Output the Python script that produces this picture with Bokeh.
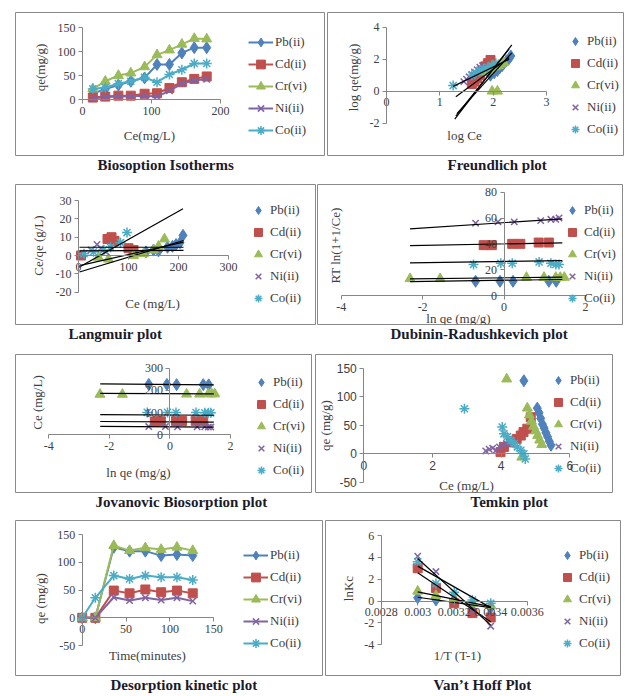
from math import pi
from bokeh.plotting import figure
from bokeh.models import Range1d, Label, Legend, LegendItem, FixedTicker, CustomJSTickFormatter
from bokeh.layouts import column, row
from bokeh.embed import file_html
from bokeh.resources import INLINE

# ---------------- data ----------------
metals = ["Pb(ii)", "Cd(ii)", "Cr(vi)", "Ni(ii)", "Co(ii)"]
colors = ["#4F81BD", "#C0504D", "#9BBB59", "#8064A2", "#4BACC6"]
markers = ["diamond", "square", "triangle", "x", "asterisk"]
marker_sizes = [12, 9, 10, 9, 10]

# 1. Biosorption isotherms
iso_ce = [15, 33, 52, 70, 90, 108, 126, 144, 162, 180]
iso_pb = [12, 22, 30, 38, 45, 73, 73, 97, 108, 108]
iso_cd = [4, 6, 8, 8, 12, 13, 24, 36, 43, 48]
iso_cr = [22, 38, 50, 55, 68, 93, 103, 115, 127, 126]
iso_ni = [2, 5, 6, 7, 8, 6, 18, 33, 40, 42]
iso_co = [22, 25, 33, 38, 46, 36, 52, 62, 75, 75]

# 2. Freundlich
fr_pb_x = [1.95, 2.02, 2.08, 2.12, 2.17, 2.2, 2.25, 2.3, 2.33]
fr_pb_y = [1.0, 1.15, 1.3, 1.45, 1.6, 1.75, 1.9, 2.05, 2.2]
fr_cd_x = [1.6, 1.65, 1.7, 1.75, 1.8, 1.85, 1.9, 1.95]
fr_cd_y = [0.45, 0.6, 0.8, 1.0, 1.3, 1.55, 1.75, 1.95]
fr_cr_x = [1.98, 2.08, 1.85, 1.9, 1.95, 2.0, 2.05, 2.1, 2.15, 2.2]
fr_cr_y = [0.0, 0.0, 1.2, 1.3, 1.4, 1.5, 1.55, 1.6, 1.7, 1.8]
fr_ni_x = [1.45, 1.5, 1.55, 1.6, 1.65, 1.7, 1.75, 1.8]
fr_ni_y = [0.6, 0.75, 0.9, 1.05, 1.2, 1.35, 1.5, 1.6]
fr_co_x = [1.25, 1.6, 1.68, 1.75, 1.82, 1.9, 1.97, 2.05]
fr_co_y = [0.35, 1.0, 1.15, 1.3, 1.4, 1.5, 1.6, 1.75]
fr_trend_x0 = [1.28, 1.3, 1.32, 1.3, 1.25]
fr_trend_y0 = [-1.75, -1.55, -1.4, -0.35, 0.3]
fr_trend_x1 = [2.35, 2.3, 2.35, 2.3, 2.3]
fr_trend_y1 = [2.9, 2.65, 2.4, 2.1, 2.0]

# 3. Langmuir
lang_pb_x = [135, 150, 160, 178, 188, 195, 203, 209]
lang_pb_y = [2, 3, 2.5, 4.5, 5, 6, 7, 11]
lang_cd_x = [5, 58, 66, 72, 100, 110]
lang_cd_y = [0, 9, 10, 8, 4, 3]
lang_cr_x = [40, 60, 110, 130, 150, 160, 172]
lang_cr_y = [-1, -2, 0, 1, 3, 5, 9]
lang_ni_x = [4, 25, 37, 45, 55]
lang_ni_y = [0, 3, 6, 4, 2]
lang_co_x = [11, 30, 50, 64, 84, 97]
lang_co_y = [1, 2, 3, 4.5, 7, 12.5]
lang_trend_x0 = [2, 2, 2, 2, 1]
lang_trend_y0 = [-9, 4.5, -5.5, 2.5, -6.4]
lang_trend_x1 = [210, 210, 210, 210, 209]
lang_trend_y1 = [8.2, 4.5, 7.3, 2.8, 25.5]

# 4./5. ln qe shared by Dubinin-Radushkevich and Jovanovic plots
lnqe_pb = [-0.7, -0.1, 0.22, 1.1, 1.28]
lnqe_cd = [-0.5, -0.3, 0.2, 0.4, 0.85, 1.1]
lnqe_cr = [-2.31, -1.57, 0.55, 0.98, 1.27, 1.38, 1.48]
lnqe_ni = [-0.7, -0.15, 0.25, 0.9, 1.15, 1.27, 1.35]
lnqe_co = [-0.75, -0.08, 0.2, 0.86, 1.15, 1.27, 1.35]

dr_pb = [11, 11, 11, 11, 11]
dr_cd = [39, 39, 40, 40, 41, 41]
dr_cr = [13, 13, 14, 14, 14, 14, 14]
dr_ni = [56, 57, 57, 58, 59, 59, 60]
dr_co = [24, 25, 25, 26, 25, 24, 24]
dr_trend_x0 = [-2.31, -2.31, -2.31, -2.31, -2.31]
dr_trend_y0 = [10.8, 38.7, 12.9, 51.6, 25.3]
dr_trend_x1 = [1.43, 1.43, 1.43, 1.43, 1.43]
dr_trend_y1 = [12.4, 40.8, 14.2, 59.4, 27.0]

jov_pb = [227, 227, 226, 226, 225]
jov_cd = [60, 61, 62, 62, 63, 63]
jov_cr = [182, 182, 183, 183, 184, 184, 184]
jov_ni = [37, 37, 36, 36, 36, 35, 35]
jov_co = [101, 101, 100, 100, 99, 99, 99]
jov_trend_x0 = [-2.3, -2.3, -2.3, -2.3, -2.3]
jov_trend_y0 = [229, 60, 187, 38, 91]
jov_trend_x1 = [1.45, 1.45, 1.45, 1.45, 1.45]
jov_trend_y1 = [225, 57, 184, 35, 88]

# 6. Temkin
tem_pb_x = [4.66, 5.05, 5.1, 5.15, 5.2, 5.25, 5.3, 5.35, 5.4, 5.45]
tem_pb_y = [128, 80, 72, 62, 52, 45, 37, 30, 22, 15]
tem_cd_x = [3.98, 4.08, 4.28, 4.45, 4.57, 4.65, 4.76, 4.86]
tem_cd_y = [3, 12, 20, 26, 32, 38, 44, 64]
tem_cr_x = [4.16, 4.76, 4.82, 4.88, 4.94, 5.0, 5.06, 5.12, 5.18, 4.6]
tem_cr_y = [131, 80, 68, 57, 48, 40, 32, 24, 16, -6]
tem_ni_x = [3.55, 3.65, 3.75, 3.85, 3.95, 4.05, 4.15, 4.25]
tem_ni_y = [5, 8, 10, 6, 12, 15, 18, 20]
tem_co_x = [2.93, 4.03, 4.08, 4.18, 4.28, 4.38, 4.47, 4.57, 4.66, 4.7]
tem_co_y = [79, 47, 35, 30, 23, 18, 12, 6, 0, -9]

# 7. Desorption kinetics
des_t = [0, 15, 36, 54, 72, 90, 108, 126]
des_pb = [0, 0, 127, 120, 120, 112, 114, 112]
des_cd = [0, 0, 49, 44, 51, 46, 49, 44]
des_cr = [0, 0, 130, 121, 126, 123, 127, 121]
des_ni = [0, 0, 37, 31, 36, 32, 36, 30]
des_co = [0, 36, 76, 70, 76, 73, 73, 68]

# 8. Van't Hoff
vh_x = [0.0030, 0.0031, 0.0032, 0.0033, 0.0034]
vh_pb = [0.3, 0.1, 0.0, -0.3, -0.6]
vh_cd = [3.0, 1.2, -0.2, -1.1, -1.5]
vh_cr = [0.9, 0.5, 0.2, -0.2, -0.4]
vh_ni = [4.1, 2.7, 0.5, -0.9, -2.3]
vh_co = [3.6, 1.6, 0.8, 0.1, -0.2]
vh_trend_x0 = [0.003, 0.003, 0.003, 0.003, 0.003]
vh_trend_y0 = [0.35, 2.6, 0.85, 3.9, 3.2]
vh_trend_x1 = [0.0034, 0.0034, 0.0034, 0.0034, 0.0034]
vh_trend_y1 = [-0.6, -1.9, -0.5, -2.2, -0.6]

# tick labels
t1_x = [0, 100, 200];            t1_xl = ["0", "100", "200"]
t1_y = [0, 50, 100, 150];        t1_yl = ["0", "50", "100", "150"]
t2_x = [0, 1, 2, 3];             t2_xl = ["0", "1", "2", "3"]
t2_y = [-2, 0, 2, 4];            t2_yl = ["-2", "0", "2", "4"]
t3_x = [0, 100, 200, 300];       t3_xl = ["0", "100", "200", "300"]
t3_y = [-20, -10, 0, 10, 20, 30]; t3_yl = ["-20", "-10", "0", "10", "20", "30"]
t4_x = [-4, -2, 0, 2];           t4_xl = ["-4", "-2", "0", "2"]
t4_y = [0, 20, 40, 60, 80];      t4_yl = ["0", "20", "40", "60", "80"]
t5_x = [-4, -2, 0, 2];           t5_xl = ["-4", "-2", "0", "2"]
t5_y = [0, 100, 200, 300];       t5_yl = ["0", "100", "200", "300"]
t6_x = [0, 2, 4, 6];             t6_xl = ["0", "2", "4", "6"]
t6_y = [-50, 0, 50, 100, 150];   t6_yl = ["-50", "0", "50", "100", "150"]
t7_x = [0, 50, 100, 150];        t7_xl = ["0", "50", "100", "150"]
t7_y = [-50, 0, 50, 100, 150];   t7_yl = ["-50", "0", "50", "100", "150"]
t8_x = [0.0028, 0.0030, 0.0032, 0.0034, 0.0036]
t8_xl = ["0.0028", "0.003", "0.0032", "0.0034", "0.0036"]
t8_y = [-4, -2, 0, 2, 4, 6];     t8_yl = ["-4", "-2", "0", "2", "4", "6"]

SERIF = "Liberation Serif"
SANS = "Liberation Sans"
AXIS_COLOR = "#868686"
TEXT_COLOR = "#404040"


def tick_fmt(tick_vals, tick_texts):
    return CustomJSTickFormatter(args=dict(tv=list(tick_vals), tt=list(tick_texts)), code="""
        for (let i = 0; i < tv.length; i++) {
            if (Math.abs(tv[i] - tick) <= 1e-9 * Math.max(1, Math.abs(tick))) return tt[i];
        }
        return "";
    """)


def style_axis(ax, tick_vals, tick_texts, bounds, fixed, font):
    ax.fixed_location = fixed
    ax.bounds = bounds
    ax.ticker = FixedTicker(ticks=list(tick_vals), minor_ticks=[])
    ax.formatter = tick_fmt(tick_vals, tick_texts)
    ax.axis_line_color = AXIS_COLOR
    ax.major_tick_line_color = AXIS_COLOR
    ax.major_tick_out = 4
    ax.major_tick_in = 0
    ax.minor_tick_out = 0
    ax.minor_tick_in = 0
    ax.major_label_text_font = font
    ax.major_label_text_font_size = "12px"
    ax.major_label_text_color = TEXT_COLOR
    ax.major_label_standoff = 3
    ax.axis_label = None


def panel(cfg):
    fl, ft, fw, fh = cfg["fig"]
    l, t, r, b = cfg["frame"]
    xd0, xp0, xd1, xp1 = cfg["xcal"]
    yd0, yp0, yd1, yp1 = cfg["ycal"]
    sx = (xp1 - xp0) / (xd1 - xd0)
    sy = (yp0 - yp1) / (yd1 - yd0)
    p = figure(width=fw, height=fh,
               x_range=Range1d(xd0 + (l - xp0) / sx, xd0 + (r - xp0) / sx),
               y_range=Range1d(yd0 + (yp0 - b) / sy, yd0 + (yp0 - t) / sy),
               output_backend="svg", toolbar_location=None,
               title=cfg["title"], title_location="below",
               min_border_left=l - fl, min_border_right=fl + fw - r,
               min_border_top=t - ft, min_border_bottom=ft + fh - b)
    p.outline_line_color = "#8a8a8a"
    p.outline_line_width = 1
    p.background_fill_color = "white"
    p.border_fill_color = "white"
    p.grid.visible = False

    font = cfg.get("tick_font", SERIF)
    style_axis(p.xaxis[0], cfg["xticks"], cfg["xlabels"], cfg["xbounds"], cfg["xfix"], font)
    style_axis(p.yaxis[0], cfg["yticks"], cfg["ylabels"], cfg["ybounds"], cfg["yfix"], font)

    items = []
    for i, (xs, ys) in enumerate(cfg["series"]):
        rs = []
        if cfg.get("lines"):
            rs.append(p.line(xs, ys, line_color=colors[i], line_width=2))
        rs.append(p.scatter(xs, ys, marker=markers[i], size=marker_sizes[i],
                            fill_color=colors[i], line_color=colors[i],
                            line_width=1.5 if markers[i] in ("x", "asterisk") else 1))
        items.append(LegendItem(label=metals[i], renderers=rs))

    if cfg.get("trend"):
        x0, y0, x1, y1 = cfg["trend"]
        p.segment(x0=x0, y0=y0, x1=x1, y1=y1, line_color="black", line_width=1.2)

    # axis titles
    xlx, xly = cfg["xtitle_pos"]
    p.add_layout(Label(x=xlx - l, y=b - xly, x_units="screen", y_units="screen",
                       text=cfg["xtitle"], text_align="center", text_baseline="middle",
                       text_font=SERIF, text_font_size="13px", text_color=TEXT_COLOR))
    ylx, yly = cfg["ytitle_pos"]
    p.add_layout(Label(x=ylx - l, y=b - yly, x_units="screen", y_units="screen",
                       text=cfg["ytitle"], text_align="center", text_baseline="middle", angle=pi / 2,
                       text_font=SERIF, text_font_size="13px", text_color=TEXT_COLOR))

    gl, gy, gw = cfg["legend"]
    pitch = 22
    top = gy - pitch / 2
    legend = Legend(items=items, location=(gl - l, b - (top + 5 * pitch)),
                    orientation="vertical", padding=0, margin=0, spacing=0,
                    glyph_width=gw, glyph_height=pitch, label_height=pitch,
                    label_standoff=2, label_text_font=SERIF, label_text_font_size="13px",
                    label_text_color=TEXT_COLOR, border_line_color=None,
                    background_fill_alpha=0)
    p.add_layout(legend)

    p.title.align = "left"
    p.title.offset = cfg["title_left"] - l
    p.title.vertical_align = "middle"
    p.title.standoff = 0
    p.title.text_font = SERIF
    p.title.text_font_size = "15px"
    p.title.text_font_style = "bold"
    p.title.text_color = "#1b1b2b"
    return p


def five(*pairs):
    return list(pairs)


cfgs = [
    dict(fig=(0, 0, 326, 176), frame=(15, 12, 324, 155),
         xcal=(0, 82, 200, 220), ycal=(0, 99, 150, 27),
         xticks=t1_x, xlabels=t1_xl, yticks=t1_y, ylabels=t1_yl,
         xbounds=(0, 200), ybounds=(0, 150), xfix=0, yfix=0,
         series=five((iso_ce, iso_pb), (iso_ce, iso_cd), (iso_ce, iso_cr), (iso_ce, iso_ni), (iso_ce, iso_co)),
         lines=True, xtitle="Ce(mg/L)", xtitle_pos=(149, 135), ytitle="qe(mg/g)", ytitle_pos=(40, 67),
         legend=(248, 42, 25), title="Biosoption Isotherms", title_left=97),
    dict(fig=(326, 0, 299, 176), frame=(327, 12, 623, 155),
         xcal=(0, 386, 3, 546), ycal=(4, 26.7, -2, 122.7),
         xticks=t2_x, xlabels=t2_xl, yticks=t2_y, ylabels=t2_yl,
         xbounds=(0, 3), ybounds=(-2, 4), xfix=0, yfix=0,
         series=five((fr_pb_x, fr_pb_y), (fr_cd_x, fr_cd_y), (fr_cr_x, fr_cr_y), (fr_ni_x, fr_ni_y), (fr_co_x, fr_co_y)),
         trend=(fr_trend_x0, fr_trend_y0, fr_trend_x1, fr_trend_y1),
         xtitle="log Ce", xtitle_pos=(464, 135), ytitle="log qe(mg/g)", ytitle_pos=(353, 77),
         legend=(565, 41, 20), title="Freundlich plot", title_left=447),
    dict(fig=(0, 176, 316, 169), frame=(15, 184, 315, 324),
         xcal=(0, 78, 300, 228), ycal=(30, 200, -20, 291.7),
         xticks=t3_x, xlabels=t3_xl, yticks=t3_y, ylabels=t3_yl,
         xbounds=(0, 300), ybounds=(-20, 30), xfix=0, yfix=0,
         series=five((lang_pb_x, lang_pb_y), (lang_cd_x, lang_cd_y), (lang_cr_x, lang_cr_y), (lang_ni_x, lang_ni_y), (lang_co_x, lang_co_y)),
         trend=(lang_trend_x0, lang_trend_y0, lang_trend_x1, lang_trend_y1),
         xtitle="Ce (mg/L)", xtitle_pos=(152, 303), ytitle="Ce/qe (g/L)", ytitle_pos=(38, 245),
         legend=(248, 210, 20), title="Langmuir plot", title_left=68),
    dict(fig=(316, 176, 309, 169), frame=(317, 184, 622, 324),
         xcal=(-4, 340.7, 2, 585), ycal=(80, 191.7, 0, 295),
         xticks=t4_x, xlabels=t4_xl, yticks=t4_y, ylabels=t4_yl,
         xbounds=(-4, 2), ybounds=(0, 80), xfix=0, yfix=0,
         series=five((lnqe_pb, dr_pb), (lnqe_cd, dr_cd), (lnqe_cr, dr_cr), (lnqe_ni, dr_ni), (lnqe_co, dr_co)),
         trend=(dr_trend_x0, dr_trend_y0, dr_trend_x1, dr_trend_y1),
         xtitle="ln qe (mg/g)", xtitle_pos=(458, 318), ytitle="RT ln(1+1/Ce)", ytitle_pos=(335, 245),
         legend=(562, 210, 20), title="Dubinin-Radushkevich plot", title_left=390),
    dict(fig=(0, 345, 313, 166), frame=(15, 354, 311, 492),
         xcal=(-4, 48.3, 2, 230), ycal=(300, 367.7, 0, 434.3),
         xticks=t5_x, xlabels=t5_xl, yticks=t5_y, ylabels=t5_yl,
         xbounds=(-4, 2), ybounds=(0, 300), xfix=0, yfix=0,
         series=five((lnqe_pb, jov_pb), (lnqe_cd, jov_cd), (lnqe_cr, jov_cr), (lnqe_ni, jov_ni), (lnqe_co, jov_co)),
         trend=(jov_trend_x0, jov_trend_y0, jov_trend_x1, jov_trend_y1),
         xtitle="ln qe (mg/g)", xtitle_pos=(138, 472), ytitle="Ce (mg/L)", ytitle_pos=(37, 402),
         legend=(251, 382, 20), title="Jovanovic Biosorption plot", title_left=95),
    dict(fig=(313, 345, 312, 166), frame=(315, 354, 612, 492),
         xcal=(0, 363.3, 4, 500.7), ycal=(150, 367.7, 0, 453.3),
         xticks=t6_x, xlabels=t6_xl, yticks=t6_y, ylabels=t6_yl,
         xbounds=(0, 6), ybounds=(-50, 150), xfix=0, yfix=0, tick_font=SANS,
         series=five((tem_pb_x, tem_pb_y), (tem_cd_x, tem_cd_y), (tem_cr_x, tem_cr_y), (tem_ni_x, tem_ni_y), (tem_co_x, tem_co_y)),
         xtitle="Ce (mg/L)", xtitle_pos=(466, 485), ytitle="qe (mg/g)", ytitle_pos=(325, 425),
         legend=(548, 380, 20), title="Temkin plot", title_left=470),
    dict(fig=(0, 511, 324, 185), frame=(15, 520, 322, 675),
         xcal=(0, 81.7, 150, 213.3), ycal=(150, 534, 0, 617.3),
         xticks=t7_x, xlabels=t7_xl, yticks=t7_y, ylabels=t7_yl,
         xbounds=(0, 150), ybounds=(-50, 150), xfix=0, yfix=0,
         series=five((des_t, des_pb), (des_t, des_cd), (des_t, des_cr), (des_t, des_ni), (des_t, des_co)),
         lines=True, xtitle="Time(minutes)", xtitle_pos=(147, 655), ytitle="qe (mg/g)", ytitle_pos=(40, 598),
         legend=(243, 555, 25), title="Desorption kinetic plot", title_left=110),
    dict(fig=(324, 511, 301, 185), frame=(325, 520, 620, 675),
         xcal=(0.0028, 380.7, 0.0036, 526.7), ycal=(6, 535, -4, 644.3),
         xticks=t8_x, xlabels=t8_xl, yticks=t8_y, ylabels=t8_yl,
         xbounds=(0.0028, 0.0036), ybounds=(-4, 6), xfix=0, yfix=0.0028,
         series=five((vh_x, vh_pb), (vh_x, vh_cd), (vh_x, vh_cr), (vh_x, vh_ni), (vh_x, vh_co)),
         trend=(vh_trend_x0, vh_trend_y0, vh_trend_x1, vh_trend_y1),
         xtitle="1/T (T-1)", xtitle_pos=(457, 655), ytitle="lnKc", ytitle_pos=(348, 588),
         legend=(557, 555, 20), title="Van\u2019t Hoff Plot", title_left=433),
]

plots = [panel(c) for c in cfgs]
layout = column(row(plots[0], plots[1]), row(plots[2], plots[3]),
                row(plots[4], plots[5]), row(plots[6], plots[7]))

open("out.html", "w").write(file_html(layout, INLINE))
